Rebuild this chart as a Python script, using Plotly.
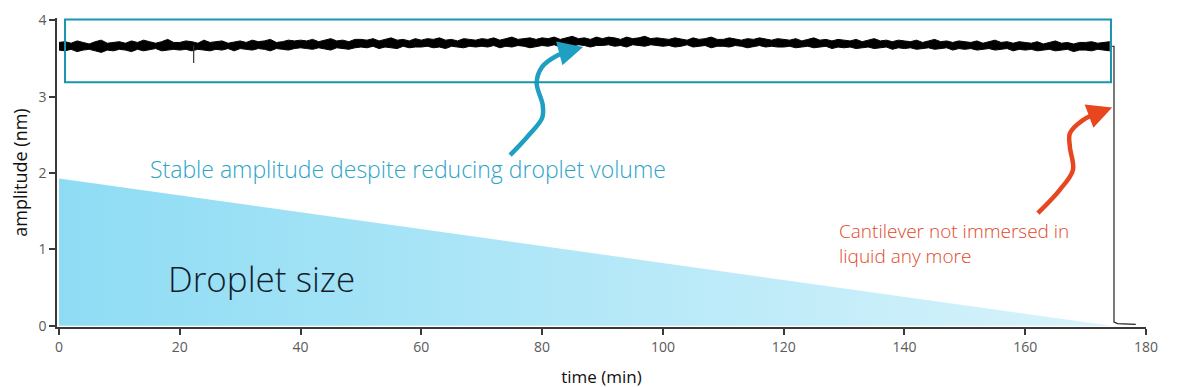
import plotly.graph_objects as go

# ---------------- data ----------------
# upper / lower envelope of the noisy amplitude signal, one value per minute (nm)
amp_hi = [3.71, 3.72, 3.70, 3.73, 3.71, 3.69, 3.72, 3.74, 3.70, 3.71,
          3.72, 3.70, 3.73, 3.71, 3.74, 3.72, 3.70, 3.72, 3.75, 3.71,
          3.71, 3.73, 3.72, 3.70, 3.74, 3.71, 3.72, 3.73, 3.70, 3.72,
          3.73, 3.71, 3.74, 3.72, 3.73, 3.75, 3.71, 3.72, 3.74, 3.73,
          3.74, 3.73, 3.75, 3.72, 3.74, 3.76, 3.73, 3.74, 3.72, 3.75,
          3.75, 3.74, 3.76, 3.73, 3.75, 3.77, 3.74, 3.75, 3.73, 3.76,
          3.74, 3.76, 3.75, 3.77, 3.74, 3.75, 3.73, 3.76, 3.75, 3.74,
          3.76, 3.75, 3.77, 3.74, 3.76, 3.78, 3.75, 3.76, 3.77, 3.75,
          3.77, 3.76, 3.78, 3.75, 3.77, 3.79, 3.76, 3.77, 3.75, 3.78,
          3.76, 3.78, 3.77, 3.75, 3.78, 3.76, 3.77, 3.79, 3.76, 3.77,
          3.76, 3.75, 3.77, 3.76, 3.74, 3.77, 3.75, 3.76, 3.78, 3.75,
          3.75, 3.77, 3.76, 3.74, 3.76, 3.75, 3.77, 3.76, 3.74, 3.76,
          3.75, 3.74, 3.76, 3.73, 3.75, 3.77, 3.74, 3.75, 3.73, 3.75,
          3.74, 3.73, 3.75, 3.72, 3.74, 3.76, 3.73, 3.74, 3.72, 3.74,
          3.73, 3.72, 3.74, 3.71, 3.73, 3.75, 3.72, 3.73, 3.71, 3.73,
          3.72, 3.71, 3.73, 3.70, 3.72, 3.74, 3.71, 3.72, 3.70, 3.72,
          3.71, 3.70, 3.72, 3.69, 3.71, 3.73, 3.70, 3.71, 3.69, 3.71,
          3.71, 3.72, 3.70, 3.71, 3.72]
amp_lo = [3.61, 3.60, 3.62, 3.59, 3.61, 3.62, 3.60, 3.58, 3.61, 3.60,
          3.62, 3.61, 3.59, 3.62, 3.60, 3.61, 3.63, 3.60, 3.61, 3.62,
          3.61, 3.62, 3.60, 3.62, 3.61, 3.60, 3.62, 3.61, 3.63, 3.60,
          3.63, 3.62, 3.61, 3.63, 3.62, 3.60, 3.63, 3.62, 3.61, 3.63,
          3.64, 3.63, 3.62, 3.64, 3.63, 3.61, 3.64, 3.63, 3.62, 3.64,
          3.65, 3.64, 3.66, 3.63, 3.65, 3.64, 3.63, 3.66, 3.64, 3.65,
          3.65, 3.66, 3.64, 3.65, 3.63, 3.66, 3.65, 3.64, 3.66, 3.65,
          3.66, 3.65, 3.67, 3.64, 3.66, 3.65, 3.67, 3.66, 3.64, 3.66,
          3.67, 3.66, 3.68, 3.65, 3.67, 3.66, 3.68, 3.67, 3.65, 3.67,
          3.67, 3.68, 3.66, 3.67, 3.65, 3.68, 3.67, 3.66, 3.68, 3.67,
          3.66, 3.67, 3.65, 3.66, 3.68, 3.65, 3.66, 3.67, 3.64, 3.66,
          3.66, 3.65, 3.67, 3.66, 3.64, 3.66, 3.67, 3.65, 3.66, 3.65,
          3.65, 3.66, 3.64, 3.65, 3.66, 3.64, 3.65, 3.66, 3.63, 3.65,
          3.64, 3.65, 3.63, 3.64, 3.65, 3.63, 3.64, 3.65, 3.62, 3.64,
          3.63, 3.64, 3.62, 3.63, 3.64, 3.62, 3.63, 3.64, 3.61, 3.63,
          3.62, 3.63, 3.61, 3.62, 3.63, 3.61, 3.62, 3.63, 3.60, 3.62,
          3.61, 3.62, 3.60, 3.61, 3.62, 3.60, 3.61, 3.62, 3.59, 3.61,
          3.61, 3.60, 3.62, 3.61, 3.60]
sig_t = list(range(len(amp_hi)))  # minutes

# single glitch in the trace (min, nm)
glitch_t = [22.3, 22.3]
glitch_amp = [3.67, 3.44]

# drop when the cantilever leaves the liquid (min, nm)
drop_t = [174.0, 174.7, 174.7, 175.3, 178.3]
drop_amp = [3.66, 3.66, 0.05, 0.03, 0.02]

# droplet size wedge (min, nm-scale height)
droplet_t = [0, 0, 174.3]
droplet_h = [0, 1.93, 0]

# highlight box (min, nm)
box_t = [1.0, 174.2]
box_amp = [3.19, 4.01]

# curved annotation arrows (min, nm)
blue_arrow_t = [74.7, 77.6, 80.0, 80.1, 79.1, 80.0, 82.5, 84.9]
blue_arrow_amp = [2.235, 2.48, 2.72, 2.89, 3.18, 3.39, 3.54, 3.61]
blue_tip = (86.8, 3.65)
red_arrow_t = [162.1, 165.7, 167.9, 167.4, 167.4, 169.5, 172.4]
red_arrow_amp = [1.477, 1.778, 2.04, 2.34, 2.52, 2.69, 2.80]
red_tip = (174.4, 2.86)

x_ticks = [0, 20, 40, 60, 80, 100, 120, 140, 160, 180]
y_ticks = [0, 1, 2, 3, 4]

TEAL = "#1f9fc2"
BOX = "#1b94ad"
RED = "#e8461f"
FONT = "Open Sans"

# ---------------- figure ----------------
fig = go.Figure()

fig.add_trace(go.Scatter(
    x=droplet_t, y=droplet_h, mode="none", fill="toself",
    fillgradient=dict(type="horizontal",
                      colorscale=[[0, "#8edcf4"], [1, "#d8f3fb"]]),
    hoverinfo="skip", showlegend=False))

fig.add_trace(go.Scatter(x=sig_t, y=amp_lo, mode="lines",
                         line=dict(color="black", width=1.0), showlegend=False))
fig.add_trace(go.Scatter(x=sig_t, y=amp_hi, mode="lines", fill="tonexty",
                         fillcolor="black",
                         line=dict(color="black", width=1.0), showlegend=False))
fig.add_trace(go.Scatter(x=glitch_t, y=glitch_amp, mode="lines",
                         line=dict(color="#333333", width=1.2), showlegend=False))
fig.add_trace(go.Scatter(x=drop_t, y=drop_amp, mode="lines",
                         line=dict(color="#222222", width=1.2), showlegend=False))

fig.add_trace(go.Scatter(x=blue_arrow_t, y=blue_arrow_amp, mode="lines",
                         line=dict(color=TEAL, width=4.5, shape="spline"),
                         showlegend=False))
fig.add_trace(go.Scatter(x=red_arrow_t, y=red_arrow_amp, mode="lines",
                         line=dict(color=RED, width=4.5, shape="spline"),
                         showlegend=False))

fig.add_shape(type="rect", xref="x", yref="y",
              x0=box_t[0], x1=box_t[1], y0=box_amp[0], y1=box_amp[1],
              line=dict(color=BOX, width=2))

for tip, tail, col in [(blue_tip, (blue_arrow_t[-1], blue_arrow_amp[-1]), TEAL),
                       (red_tip, (red_arrow_t[-1], red_arrow_amp[-1]), RED)]:
    fig.add_annotation(x=tip[0], y=tip[1], ax=tail[0], ay=tail[1],
                       xref="x", yref="y", axref="x", ayref="y",
                       text="", showarrow=True, arrowhead=2, arrowsize=1.1,
                       arrowwidth=4.5, arrowcolor=col)

fig.add_annotation(x=14.7, y=2.05, xref="x", yref="y",
                   text="Stable amplitude despite reducing droplet volume",
                   showarrow=False, xanchor="left", yanchor="middle",
                   font=dict(family=FONT, size=23, color="#2ba4c6", weight=300))
fig.add_annotation(x=17.7, y=0.62, xref="x", yref="y", text="Droplet size",
                   showarrow=False, xanchor="left", yanchor="middle",
                   font=dict(family=FONT, size=35, color="#141c2c", weight=300))
fig.add_annotation(x=128.8, y=1.08, xref="x", yref="y",
                   text="Cantilever not immersed in<br>liquid any more",
                   showarrow=False, xanchor="left", yanchor="middle", align="left",
                   font=dict(family=FONT, size=19, color="#e0492a", weight=300))

axis_common = dict(showgrid=False, zeroline=False, showline=True,
                   linecolor="#3a3a3a", linewidth=1.5, ticks="outside",
                   ticklen=6, tickwidth=1.5, tickcolor="#3a3a3a",
                   automargin=False,
                   tickfont=dict(family=FONT, size=14, color="#5a5a5a"))

fig.update_xaxes(range=[-0.33, 180], tickvals=x_ticks,
                 title=dict(text="time (min)", standoff=17,
                            font=dict(family=FONT, size=17, color="#111111")),
                 **axis_common)
fig.update_yaxes(range=[-0.015, 4.03], tickvals=y_ticks,
                 title=dict(text="amplitude (nm)", standoff=14,
                            font=dict(family=FONT, size=18, color="#111111")),
                 **axis_common)

# page body has an 8 px default margin, so margins are offset to place the plot
fig.update_layout(width=1178, height=387,
                  margin=dict(l=49, r=40, t=10, b=68),
                  plot_bgcolor="white", paper_bgcolor="white",
                  showlegend=False)

fig.write_html("out.html")
